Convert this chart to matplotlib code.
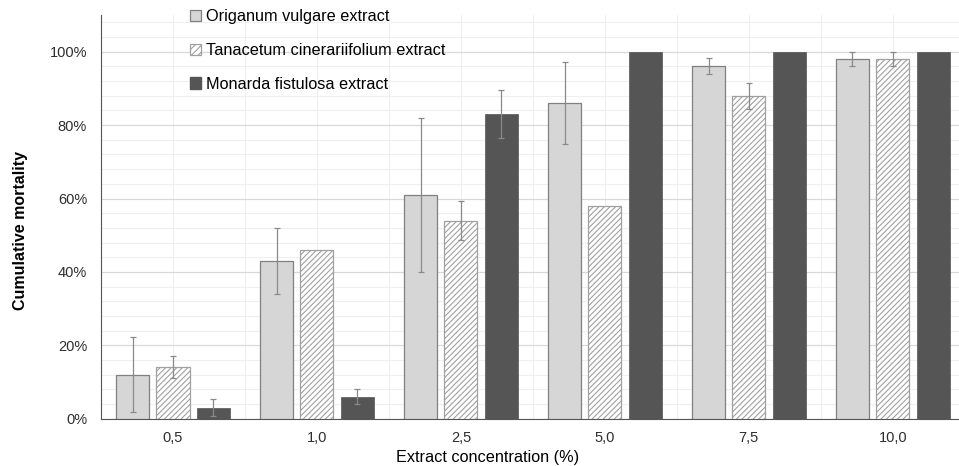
import numpy as np
import matplotlib.pyplot as plt
from matplotlib.patches import Patch
from matplotlib.ticker import MultipleLocator, FuncFormatter

plt.rcParams['font.family'] = ['Liberation Sans', 'DejaVu Sans']
plt.rcParams['hatch.color'] = '#9a9a9a'
plt.rcParams['hatch.linewidth'] = 0.8

# data (cumulative mortality, %)
concentrations = ['0,5', '1,0', '2,5', '5,0', '7,5', '10,0']
origanum = [12, 43, 61, 86, 96, 98]
origanum_err = [10.3, 9, 21, 11.2, 2.2, 2]
tanacetum = [14, 46, 54, 58, 88, 98]
tanacetum_err = [3, 0, 5.2, 0, 3.5, 2]
monarda = [3, 6, 83, 100, 100, 100]
monarda_err = [2.3, 2, 6.5, 0, 0, 0]
series_names = ['Origanum vulgare extract',
                'Tanacetum cinerariifolium extract',
                'Monarda fistulosa extract']

fig = plt.figure(figsize=(9.59, 4.66), dpi=100)
ax = fig.add_axes([0.1053, 0.1015, 0.9007, 0.8663])

x = np.arange(len(concentrations))
w = 0.23
off = 0.28
err_kw = dict(ecolor='#8a8a8a', elinewidth=0.9, capsize=2.5, capthick=0.9)

ax.bar(x - off, origanum, w, color='#d6d6d6', edgecolor='#808080', linewidth=0.9,
       yerr=origanum_err, error_kw=err_kw, zorder=3)
ax.bar(x, tanacetum, w, color='white', edgecolor='#a0a0a0', linewidth=0.9, hatch='//////',
       yerr=[e if e > 0 else np.nan for e in tanacetum_err], error_kw=err_kw, zorder=3)
ax.bar(x + off, monarda, w, color='#555555', edgecolor='#555555', linewidth=0.5,
       yerr=[e if e > 0 else np.nan for e in monarda_err], error_kw=err_kw, zorder=3)

ax.set_xlim(-0.5, len(concentrations) - 0.5)
ax.set_ylim(0, 110)
ax.set_xticks(x)
ax.set_xticklabels(concentrations)
ax.yaxis.set_major_locator(MultipleLocator(20))
ax.yaxis.set_major_formatter(FuncFormatter(lambda v, p: f'{int(v)}%' if v <= 100 else ''))
ax.yaxis.set_minor_locator(MultipleLocator(4))
ax.xaxis.set_minor_locator(MultipleLocator(0.5))
ax.tick_params(axis='both', which='both', length=0, labelsize=10.5, labelcolor='#2e2e2e')
ax.tick_params(axis='x', pad=9)
ax.tick_params(axis='y', pad=10)

ax.grid(axis='y', which='major', color='#d9d9d9', linewidth=0.9, zorder=0)
ax.grid(axis='y', which='minor', color='#efefef', linewidth=0.8, zorder=0)
ax.grid(axis='x', which='both', color='#efefef', linewidth=0.8, zorder=0)
ax.set_axisbelow(True)

for s in ['top', 'right']:
    ax.spines[s].set_visible(False)
ax.spines['left'].set_color('#555555')
ax.spines['bottom'].set_color('#555555')

ax.set_ylabel('Cumulative mortality', fontsize=11.5, fontweight='bold')
ax.yaxis.set_label_coords(-0.084, 0.467)
ax.set_xlabel('Extract concentration (%)', fontsize=11.7)
ax.xaxis.set_label_coords(0.447, -0.077)

handles = [Patch(facecolor='#d6d6d6', edgecolor='#808080', linewidth=0.9),
           Patch(facecolor='white', edgecolor='#a0a0a0', hatch='/////', linewidth=0.9),
           Patch(facecolor='#555555', edgecolor='#555555')]
ax.legend(handles, series_names, loc='upper left', bbox_to_anchor=(0.095, 1.03),
          frameon=False, fontsize=11.7, handlelength=0.7, handleheight=0.7,
          handletextpad=0.3, labelspacing=1.15, borderaxespad=0)

plt.savefig('out.png', dpi=100)
